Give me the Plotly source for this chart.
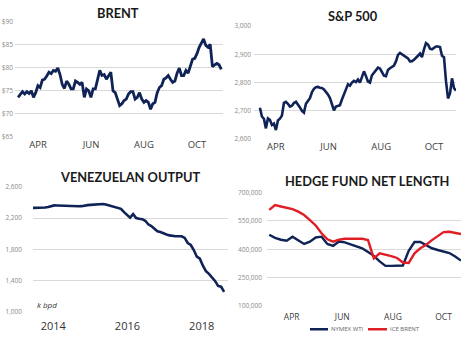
import pandas as pd
import plotly.graph_objects as go

W, H = 468, 343

# ---------------- data ----------------
brent_values = [
    73.6, 74.3, 74.8, 74.3, 74.8, 74.4, 75.0, 73.6, 74.6, 76.1, 75.7, 77.3, 77.5, 78.2, 79.0, 78.7,
    79.4, 79.2, 79.9, 78.5, 76.4, 75.5, 77.1, 76.4, 75.4, 75.4, 77.1, 76.8, 76.4, 76.8, 73.6, 75.4,
    75.0, 73.6, 75.4, 75.4, 77.8, 79.4, 78.3, 78.5, 77.5, 78.3, 79.0, 75.0, 74.6, 73.2, 71.8,
    72.2, 72.9, 73.2, 74.3, 74.8, 74.8, 73.2, 73.6, 74.6, 73.2, 72.5, 72.9, 72.5, 71.0, 72.2, 72.5,
    74.6, 75.7, 76.1, 77.5, 77.8, 78.3, 77.5, 76.8, 77.1, 78.8, 79.9, 78.3, 78.3, 79.4, 78.8, 80.2,
    81.8, 82.0, 83.0, 84.4, 85.5, 86.2, 84.8, 84.4, 85.0, 80.2, 80.6, 80.9, 80.6, 79.6,
]
brent_start, brent_end = "2018-03-09", "2018-10-29"
brent_ticks = [65, 70, 75, 80, 85, 90]
brent_tick_labels = ["$65", "$70", "$75", "$80", "$85", "$90"]

sp500_values = [
    2711, 2680, 2672, 2638, 2673, 2668, 2650, 2655, 2632, 2666, 2672, 2683, 2728, 2732, 2725, 2715,
    2718, 2728, 2732, 2724, 2712, 2700, 2694, 2725, 2736, 2745, 2766, 2778, 2784, 2785, 2782, 2781,
    2776, 2768, 2758, 2745, 2725, 2702, 2715, 2719, 2720, 2740, 2762, 2776, 2794, 2789, 2800, 2806,
    2802, 2811, 2800, 2820, 2840, 2823, 2804, 2800, 2826, 2835, 2845, 2853, 2850, 2835, 2825, 2823,
    2845, 2851, 2856, 2860, 2875, 2898, 2905, 2900, 2896, 2891, 2886, 2875, 2876, 2881, 2887, 2895,
    2903, 2890, 2918, 2940, 2935, 2920, 2918, 2923, 2928, 2928, 2926, 2895, 2890, 2805, 2744, 2762,
    2815, 2780, 2772,
]
sp500_start, sp500_end = "2018-03-13 18:00", "2018-10-26 10:00"
sp500_ticks = [2600, 2700, 2800, 2900, 3000]

venezuela_values = [
    2330, 2330, 2330, 2330, 2335, 2342, 2355, 2362, 2360, 2358, 2355, 2350, 2352, 2350, 2350, 2350,
    2352, 2362, 2365, 2368, 2372, 2375, 2376, 2380, 2372, 2362, 2350, 2340, 2330, 2318, 2275, 2235,
    2205, 2250, 2200, 2190, 2185, 2165, 2120, 2098, 2060, 2030, 2020, 2000, 1990, 1978, 1968, 1966,
    1966, 1966, 1945, 1880, 1855, 1790, 1705, 1680, 1590, 1520, 1485, 1445, 1395, 1330, 1320, 1255,
]
venezuela_start, venezuela_end = "2013-06-15", "2018-08-10"
venezuela_ticks = [1000, 1400, 1800, 2200, 2600]

hedge_start = "2018-03-05"
series_names = ["NYMEX WTI", "ICE BRENT"]
nymex_wti = [
    476, 460, 450, 445, 466, 447, 428, 440, 462, 466, 428, 418, 440, 436, 425, 414,
    405, 385, 365, 336, 312, 312, 312, 314, 392, 438, 438, 422, 405, 396, 390, 380, 362, 340,
]
ice_brent = [
    607, 632, 625, 617, 611, 598, 580, 553, 525, 484, 452, 440, 450, 455, 455, 452,
    455, 448, 352, 378, 372, 364, 354, 330, 328, 378, 405, 424, 448, 470, 490, 492, 484, 480,
]
hedge_ticks = [100000, 250000, 400000, 550000, 700000]

month_ticks = ["2018-04-01", "2018-06-01", "2018-08-01", "2018-10-01"]
month_labels = ["APR", "JUN", "AUG", "OCT"]
year_ticks = ["2014-01-01", "2016-01-01", "2018-01-01"]
year_labels = ["2014", "2016", "2018"]

titles = ["BRENT", "S&P 500", "VENEZUELAN OUTPUT", "HEDGE FUND NET LENGTH"]

# ---------------- style ----------------
NAVY = "#0f2357"
RED = "#e01e25"
GRID = "#d9d9d9"
YTICK = "#8a8a8a"
XTICK = "#404040"


def xd(a, b):
    return [a / W, b / W]


def yd(top, bottom):
    return [1 - bottom / H, 1 - top / H]


fig = go.Figure()

brent_x = pd.date_range(brent_start, brent_end, periods=len(brent_values))
fig.add_trace(go.Scatter(x=brent_x, y=brent_values, mode="lines", line=dict(color=NAVY, width=2.8),
                         xaxis="x", yaxis="y", showlegend=False))

sp_x = pd.date_range(sp500_start, sp500_end, periods=len(sp500_values))
fig.add_trace(go.Scatter(x=sp_x, y=sp500_values, mode="lines", line=dict(color=NAVY, width=2.6),
                         xaxis="x2", yaxis="y2", showlegend=False))

ven_x = pd.date_range(venezuela_start, venezuela_end, periods=len(venezuela_values))
fig.add_trace(go.Scatter(x=ven_x, y=venezuela_values, mode="lines", line=dict(color=NAVY, width=2.6),
                         xaxis="x3", yaxis="y3", showlegend=False))

hedge_x = pd.date_range(hedge_start, periods=len(nymex_wti), freq="7D")
hedge_colors = [NAVY, RED]
for name, vals, col in zip(series_names, [nymex_wti, ice_brent], hedge_colors):
    fig.add_trace(go.Scatter(x=hedge_x, y=[v * 1000 for v in vals], mode="lines", name=name,
                             line=dict(color=col, width=2.4), xaxis="x4", yaxis="y4",
                             showlegend=False))

base_x = dict(showgrid=False, zeroline=False, showline=False, ticks="", type="date")
base_y = dict(showgrid=True, gridcolor=GRID, gridwidth=1, zeroline=False, showline=False, ticks="",
              tickfont=dict(family="Open Sans, sans-serif", size=6.5, color=YTICK))

fig.update_layout(
    width=W, height=H, margin=dict(l=0, r=0, t=0, b=0),
    paper_bgcolor="white", plot_bgcolor="white", showlegend=False,
    xaxis=dict(base_x, domain=xd(15, 223), range=["2018-03-05 12:00", "2018-10-31"],
               tickvals=month_ticks, ticktext=month_labels,
               tickfont=dict(family="Open Sans, sans-serif", size=9.5, color=XTICK), anchor="y"),
    yaxis=dict(base_y, domain=yd(16.7, 135.7), range=[65, 90], tickvals=brent_ticks,
               ticktext=brent_tick_labels, anchor="x", ticklabelstandoff=1),
    xaxis2=dict(base_x, domain=xd(254, 456), range=["2018-03-06 22:00", "2018-10-26 10:00"],
                tickvals=month_ticks, ticktext=month_labels,
                tickfont=dict(family="Open Sans, sans-serif", size=9.5, color=XTICK), anchor="y2"),
    yaxis2=dict(base_y, domain=yd(21.7, 137.7), range=[2600, 3000], tickvals=sp500_ticks,
                tickformat=",d", anchor="x2", ticklabelstandoff=2),
    xaxis3=dict(base_x, domain=xd(33, 228), range=["2013-06-15", "2018-09-17"],
                tickvals=year_ticks, ticktext=year_labels, ticklabelstandoff=6,
                tickfont=dict(family="Open Sans, sans-serif", size=11, color="#333333"), anchor="y3"),
    yaxis3=dict(base_y, domain=yd(186.7, 315), range=[1000, 2600], tickvals=venezuela_ticks,
                tickformat=",d", anchor="x3", ticklabelstandoff=10),
    xaxis4=dict(base_x, domain=xd(267, 461), range=["2018-03-02 07:00", "2018-10-22"],
                tickvals=month_ticks, ticktext=month_labels, ticklabelstandoff=4,
                tickfont=dict(family="Open Sans, sans-serif", size=8.5, color=XTICK), anchor="y4"),
    yaxis4=dict(base_y, domain=yd(192.3, 309.3), range=[100000, 700000], tickvals=hedge_ticks,
                tickformat=",d", anchor="x4", ticklabelstandoff=4),
)

title_pos = [(118, 8.7), (353, 11.3), (130.5, 176.7), (367, 181)]
for text, (cx, cy) in zip(titles, title_pos):
    fig.add_annotation(text=f"<b>{text}</b>", x=cx / W, y=1 - cy / H, xref="paper", yref="paper",
                       showarrow=False, xanchor="center", yanchor="middle",
                       font=dict(family="Lato, sans-serif", size=12.8, color="#1a1a1a"))

fig.add_annotation(text="<i>k bpd</i>", x=35 / W, y=1 - 308 / H, xref="paper", yref="paper",
                   showarrow=False, xanchor="left", yanchor="middle",
                   font=dict(family="Open Sans, sans-serif", size=8, color="#333333"))

# compact legend for the hedge fund panel
legend_items = [(310, 328, 329), (368, 387, 388)]
for name, col, (x0, x1, tx) in zip(series_names, hedge_colors, legend_items):
    fig.add_shape(type="line", xref="paper", yref="paper", x0=x0 / W, x1=x1 / W,
                  y0=1 - 333 / H, y1=1 - 333 / H, line=dict(color=col, width=2.5))
    fig.add_annotation(text=name, x=tx / W, y=1 - 333 / H, xref="paper", yref="paper",
                       showarrow=False, xanchor="left", yanchor="middle",
                       font=dict(family="Open Sans, sans-serif", size=6, color="#666666"))

fig.write_html("out.html")
